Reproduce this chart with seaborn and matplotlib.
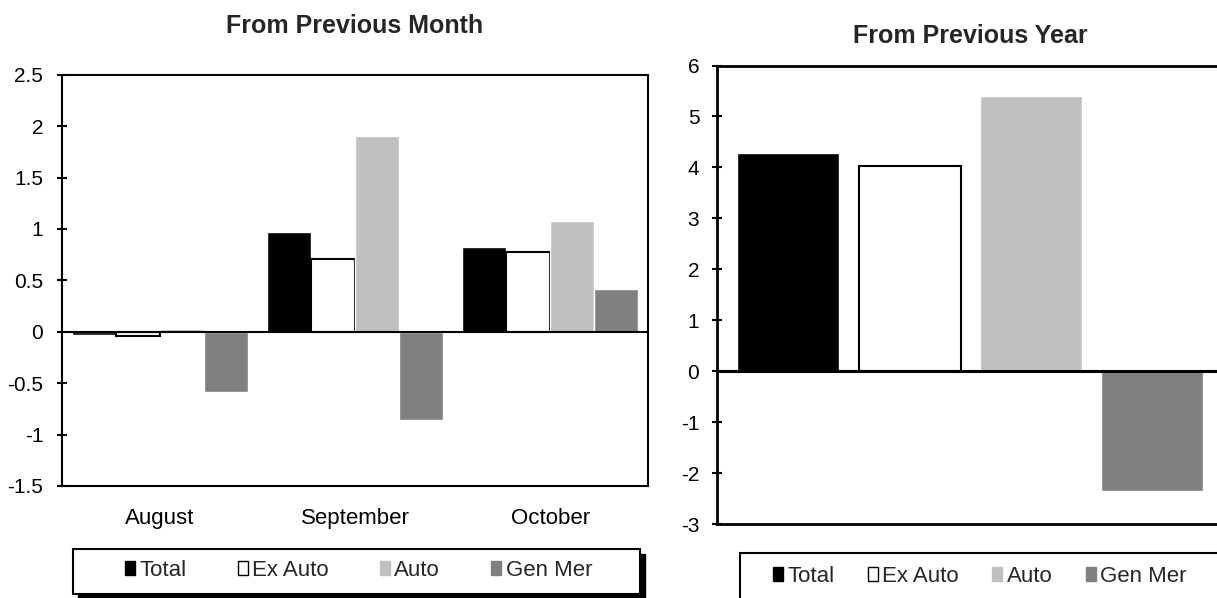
import numpy as np
import pandas as pd
import matplotlib
matplotlib.use("Agg")
import matplotlib.pyplot as plt
from matplotlib.patches import Patch, Rectangle
import seaborn as sns

# ── data ────────────────────────────────────────────────────
months = ["August", "September", "October"]
series = ["Total", "Ex Auto", "Auto", "Gen Mer"]

total_mom = [-0.03, 0.97, 0.82]
ex_auto_mom = [-0.04, 0.71, 0.78]
auto_mom = [0.03, 1.90, 1.08]
gen_mer_mom = [-0.59, -0.86, 0.42]

yoy_values = [4.28, 4.02, 5.41, -2.35]

COLORS = {"Total": "#000000", "Ex Auto": "#ffffff", "Auto": "#c0c0c0", "Gen Mer": "#808080"}

sns.set_style("white")
plt.rcParams["font.family"] = ["Liberation Sans", "DejaVu Sans"]
plt.rcParams["axes.unicode_minus"] = False

W, H = 1217, 598
fig = plt.figure(figsize=(W / 100, H / 100), dpi=100)


def px_axes(left, top, right, bottom):
    return fig.add_axes([left / W, 1 - bottom / H, (right - left) / W, (bottom - top) / H])


def style_axes(ax, lw=1.5):
    for s in ax.spines.values():
        s.set_visible(True)
        s.set_color("black")
        s.set_linewidth(lw)
    ax.set_xlabel("")
    ax.set_ylabel("")


def outline_ex_auto(ax):
    # the white series gets a black outline
    for bar in ax.containers[1]:
        bar.set_edgecolor("black")
        bar.set_linewidth(1.5)


def legend_box(x0, y0, x1, y1, shadow=True):
    if shadow:
        sh = Rectangle(((x0 + 5) / W, 1 - (y1 + 5) / H), (x1 - x0) / W, (y1 - y0) / H,
                       transform=fig.transFigure, facecolor="black",
                       edgecolor="black", linewidth=1, zorder=0.5)
        fig.add_artist(sh)
    rect = Rectangle((x0 / W, 1 - y1 / H), (x1 - x0) / W, (y1 - y0) / H,
                     transform=fig.transFigure, facecolor="white",
                     edgecolor="black", linewidth=1.5, zorder=1)
    fig.add_artist(rect)


handles = [Patch(facecolor=COLORS[s], edgecolor="black" if s == "Ex Auto" else COLORS[s],
                 linewidth=1.0, label=s) for s in series]

# ── left: from previous month ───────────────────────────────
mom = pd.DataFrame({
    "month": np.repeat(months, len(series)),
    "series": series * len(months),
    "value": np.ravel(np.column_stack([total_mom, ex_auto_mom, auto_mom, gen_mer_mom])),
})

ax1 = px_axes(62, 74.7, 648, 485.9)
sns.barplot(data=mom, x="month", y="value", hue="series", hue_order=series,
            palette=COLORS, width=0.9, saturation=1, legend=False, ax=ax1)
outline_ex_auto(ax1)
ax1.axhline(0, color="black", linewidth=1.5, zorder=3)
ax1.set_ylim(-1.5, 2.5)
yt1 = np.arange(-1.5, 2.51, 0.5)
ax1.set_yticks(yt1)
ax1.set_yticklabels([f"{v:g}" for v in yt1])
ax1.set_xlim(-0.5, 2.5)
style_axes(ax1)
ax1.tick_params(axis="y", direction="inout", length=7, width=1.5, left=True,
                pad=10, labelsize=15, colors="black")
ax1.tick_params(axis="x", length=0, pad=16, labelsize=16, colors="black")
ax1.set_title("From Previous Month", fontsize=18, fontweight="bold", pad=30)

legend_box(73.3, 549.3, 640, 594)
fig.legend(handles=handles, loc="center left", bbox_to_anchor=(125 / W, 1 - 570.7 / H),
           ncol=4, frameon=False, fontsize=16, handlelength=0.45, handleheight=0.6,
           handletextpad=0.2, columnspacing=2.3, borderpad=0, borderaxespad=0)

# ── right: from previous year ───────────────────────────────
yoy = pd.DataFrame({"series": series, "value": yoy_values})

ax2 = px_axes(716.7, 65.5, 1224, 524)
sns.barplot(data=yoy, x="series", y="value", hue="series", hue_order=series,
            palette=COLORS, width=0.84, saturation=1, legend=False, ax=ax2)
outline_ex_auto(ax2)
ax2.axhline(0, color="black", linewidth=2.2, zorder=3)
ax2.set_ylim(-3, 6)
ax2.set_yticks(range(-3, 7))
ax2.set_xlim(-0.59, 3.59)
style_axes(ax2, lw=2)
ax2.set_xticks([])
ax2.tick_params(axis="y", direction="inout", length=7, width=1.5, left=True,
                pad=9, labelsize=15, colors="black")
ax2.set_title("From Previous Year", fontsize=18, fontweight="bold", pad=16)

legend_box(740, 552.7, 1240, 620, shadow=False)
fig.legend(handles=handles, loc="center left", bbox_to_anchor=(773 / W, 1 - 576.7 / H),
           ncol=4, frameon=False, fontsize=16, handlelength=0.45, handleheight=0.6,
           handletextpad=0.2, columnspacing=1.5, borderpad=0, borderaxespad=0)

fig.savefig("out.png", dpi=100)
plt.close(fig)
